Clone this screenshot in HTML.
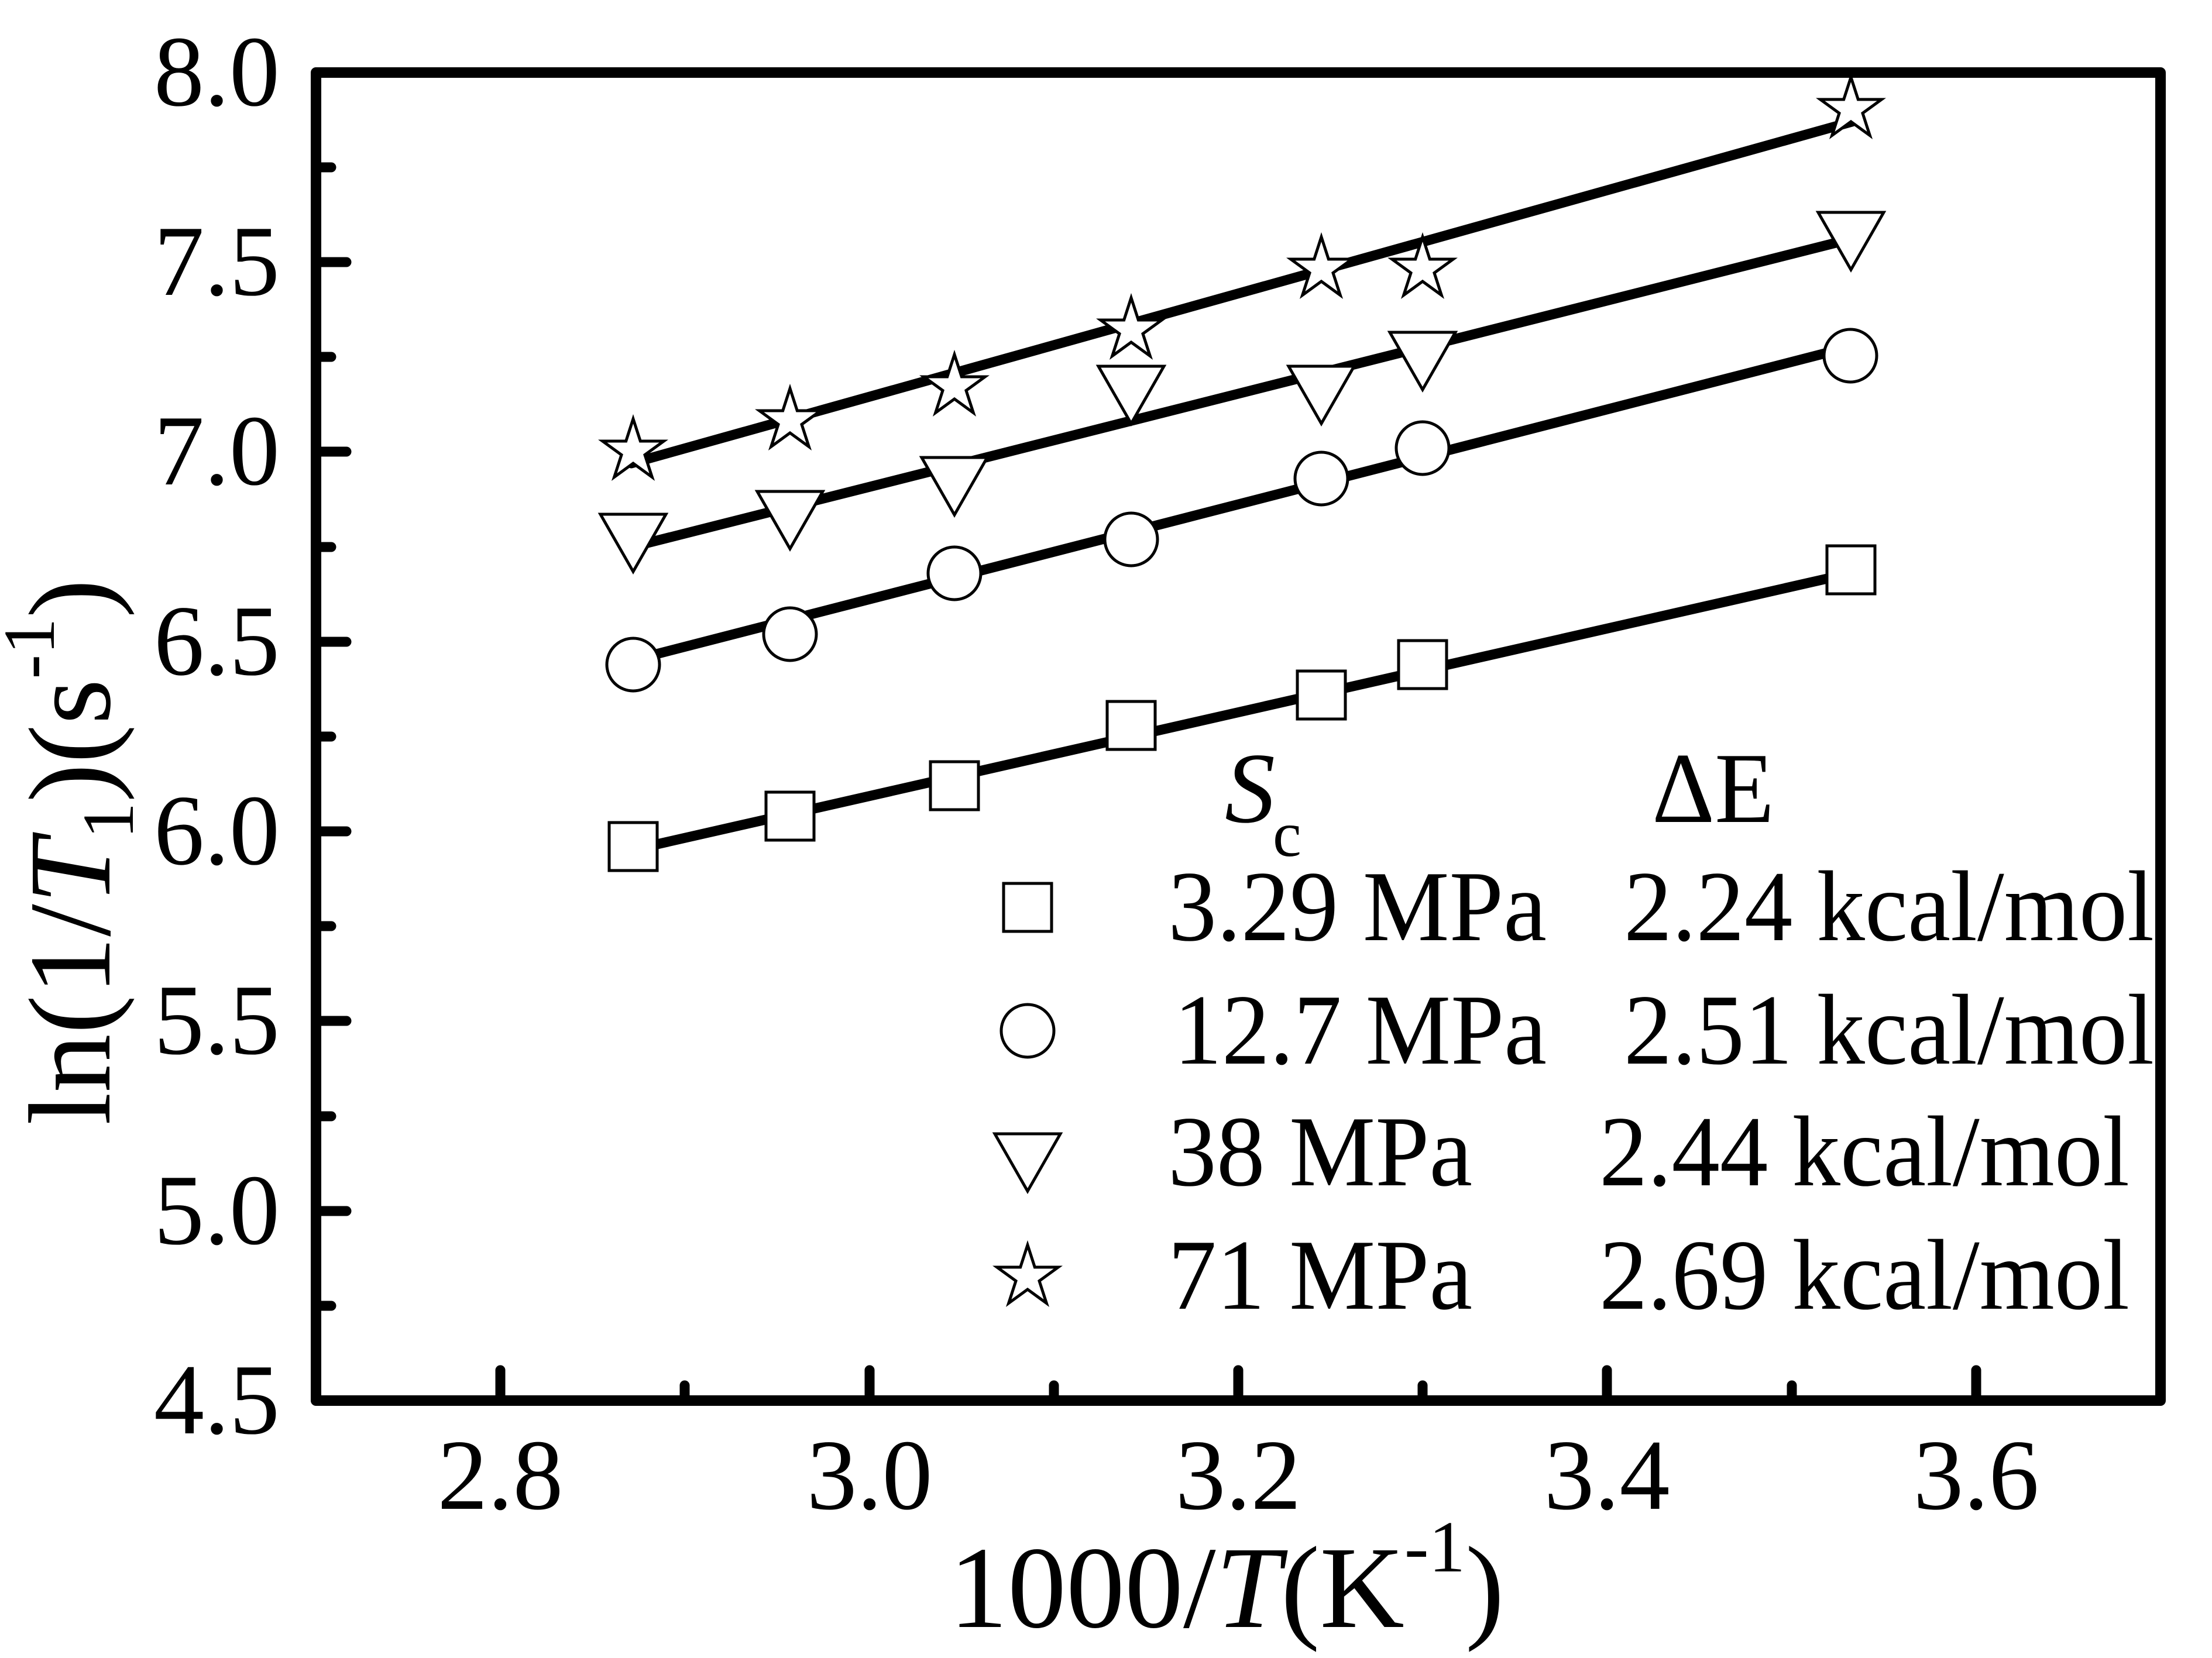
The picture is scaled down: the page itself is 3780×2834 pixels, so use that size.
<!DOCTYPE html>
<html><head><meta charset="utf-8"><style>
html,body{margin:0;padding:0;background:#fff}
svg{display:block}
text{font-family:"Liberation Serif","Times New Roman",serif;fill:#000}
</style></head><body>
<svg width="3780" height="2834" viewBox="0 0 3780 2834" xmlns="http://www.w3.org/2000/svg">
<defs>
<path id="sq" d="M-41,-41H41V41H-41Z" fill="#fff" stroke="#000" stroke-width="5"/>
<circle id="ci" r="45" fill="#fff" stroke="#000" stroke-width="5"/>
<path id="tr" d="M-56,-49H56L0,49Z" fill="#fff" stroke="#000" stroke-width="5" stroke-linejoin="miter"/>
<path id="st" transform="translate(0,5)" d="M0,-55L12.3,-17L52.3,-17L20,6.5L32.3,44.5L0,21L-32.3,44.5L-20,6.5L-52.3,-17L-12.3,-17Z" fill="#fff" stroke="#000" stroke-width="5"/>
</defs>

<!-- ticks -->
<g stroke="#000" stroke-width="17" stroke-linecap="round">
<line x1="549" y1="448" x2="592" y2="448"/>
<line x1="549" y1="772" x2="592" y2="772"/>
<line x1="549" y1="1097" x2="592" y2="1097"/>
<line x1="549" y1="1421" x2="592" y2="1421"/>
<line x1="549" y1="1745" x2="592" y2="1745"/>
<line x1="549" y1="2070" x2="592" y2="2070"/>
<line x1="549" y1="286" x2="566" y2="286"/>
<line x1="549" y1="610" x2="566" y2="610"/>
<line x1="549" y1="935" x2="566" y2="935"/>
<line x1="549" y1="1259" x2="566" y2="1259"/>
<line x1="549" y1="1583" x2="566" y2="1583"/>
<line x1="549" y1="1908" x2="566" y2="1908"/>
<line x1="549" y1="2232" x2="566" y2="2232"/>
<line x1="855" y1="2385" x2="855" y2="2342"/>
<line x1="1486" y1="2385" x2="1486" y2="2342"/>
<line x1="2116" y1="2385" x2="2116" y2="2342"/>
<line x1="2746" y1="2385" x2="2746" y2="2342"/>
<line x1="3377" y1="2385" x2="3377" y2="2342"/>
<line x1="1170" y1="2385" x2="1170" y2="2368"/>
<line x1="1801" y1="2385" x2="1801" y2="2368"/>
<line x1="2431" y1="2385" x2="2431" y2="2368"/>
<line x1="3062" y1="2385" x2="3062" y2="2368"/>
</g>
<rect x="540" y="124" width="3152" height="2270" fill="none" stroke="#000" stroke-width="18" stroke-linejoin="round"/>

<!-- tick labels -->
<g font-size="172" text-anchor="end">
<text x="478" y="180">8.0</text>
<text x="478" y="504">7.5</text>
<text x="478" y="828">7.0</text>
<text x="478" y="1153">6.5</text>
<text x="478" y="1477">6.0</text>
<text x="478" y="1801">5.5</text>
<text x="478" y="2126">5.0</text>
<text x="478" y="2450">4.5</text>
</g>
<g font-size="172" text-anchor="middle">
<text x="855" y="2579">2.8</text>
<text x="1486" y="2579">3.0</text>
<text x="2116" y="2579">3.2</text>
<text x="2746" y="2579">3.4</text>
<text x="3377" y="2579">3.6</text>
</g>

<!-- fit lines -->
<g stroke="#000" stroke-width="17" stroke-linecap="round">
<line x1="1079" y1="1453" x2="3162" y2="980"/>
<line x1="1079" y1="1129" x2="3165" y2="592"/>
<line x1="1079" y1="935" x2="3165" y2="408"/>
<line x1="1079" y1="792" x2="3165" y2="208"/>
</g>

<!-- markers -->
<use href="#sq" x="1082" y="1447"/><use href="#sq" x="1350" y="1395"/><use href="#sq" x="1631" y="1343"/><use href="#sq" x="1933" y="1240"/><use href="#sq" x="2258" y="1188"/><use href="#sq" x="2431" y="1136"/><use href="#sq" x="3163" y="974"/>
<use href="#ci" x="1082" y="1136"/><use href="#ci" x="1350" y="1084"/><use href="#ci" x="1631" y="980"/><use href="#ci" x="1933" y="922"/><use href="#ci" x="2258" y="818"/><use href="#ci" x="2431" y="766"/><use href="#ci" x="3162" y="608"/>
<use href="#tr" x="1082" y="928"/><use href="#tr" x="1350" y="889"/><use href="#tr" x="1631" y="831"/><use href="#tr" x="1933" y="675"/><use href="#tr" x="2258" y="675"/><use href="#tr" x="2431" y="617"/><use href="#tr" x="3163" y="412"/>
<use href="#st" x="1082" y="766"/><use href="#st" x="1350" y="714"/><use href="#st" x="1631" y="656"/><use href="#st" x="1933" y="559"/><use href="#st" x="2258" y="455"/><use href="#st" x="2431" y="455"/><use href="#st" x="3163" y="182"/>

<!-- legend -->
<text x="2093" y="1405" font-size="172" font-style="italic">S</text>
<text x="2175" y="1463" font-size="110">c</text>
<text x="2823" y="1405" font-size="172" textLength="209" lengthAdjust="spacingAndGlyphs">ΔE</text>
<use href="#sq" x="1756" y="1551"/>
<use href="#ci" x="1756" y="1762"/>
<use href="#tr" x="1756" y="1987"/>
<use href="#st" x="1756" y="2178"/>
<g font-size="172">
<text x="1996" y="1607" textLength="647" lengthAdjust="spacingAndGlyphs">3.29 MPa</text>
<text x="2775" y="1607" textLength="906" lengthAdjust="spacingAndGlyphs">2.24 kcal/mol</text>
<text x="2006" y="1818" textLength="637" lengthAdjust="spacingAndGlyphs">12.7 MPa</text>
<text x="2775" y="1818" textLength="906" lengthAdjust="spacingAndGlyphs">2.51 kcal/mol</text>
<text x="1996" y="2026" textLength="520" lengthAdjust="spacingAndGlyphs">38 MPa</text>
<text x="2733" y="2026" textLength="906" lengthAdjust="spacingAndGlyphs">2.44 kcal/mol</text>
<text x="1996" y="2237" textLength="520" lengthAdjust="spacingAndGlyphs">71 MPa</text>
<text x="2733" y="2237" textLength="906" lengthAdjust="spacingAndGlyphs">2.69 kcal/mol</text>
</g>

<!-- x title -->
<text x="1622" y="2781" font-size="200">1000/<tspan font-style="italic">T</tspan>(K<tspan font-size="125" dy="-95">-1</tspan><tspan dy="95">)</tspan></text>

<!-- y title -->
<text transform="translate(187,1923) rotate(-90)" font-size="200">ln(1/<tspan font-style="italic">T</tspan><tspan font-size="125" dy="40">1</tspan><tspan dy="-40">)(s</tspan><tspan font-size="125" dy="-95">-1</tspan><tspan dy="95">)</tspan></text>
</svg>
</body></html>
